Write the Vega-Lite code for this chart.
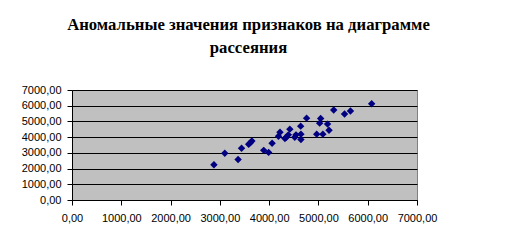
{
  "$schema": "https://vega.github.io/schema/vega-lite/v6.json",
  "width": 345,
  "height": 110,
  "autosize": {"type": "none"},
  "padding": {"left": 72, "top": 90, "right": 93, "bottom": 43},
  "background": "white",
  "title": {
    "text": ["Аномальные значения признаков на диаграмме", "рассеяния"],
    "font": "'Liberation Serif', 'DejaVu Serif', serif",
    "fontSize": 16.7,
    "fontWeight": "bold",
    "color": "black",
    "anchor": "middle",
    "dx": 4,
    "offset": 27,
    "lineHeight": 23
  },
  "data": {
    "values": [
      {"x": 2880, "y": 2240},
      {"x": 3100, "y": 2970},
      {"x": 3370, "y": 2580},
      {"x": 3440, "y": 3290},
      {"x": 3585, "y": 3545},
      {"x": 3620, "y": 3650},
      {"x": 3650, "y": 3760},
      {"x": 3890, "y": 3160},
      {"x": 3990, "y": 3030},
      {"x": 4060, "y": 3610},
      {"x": 4190, "y": 4060},
      {"x": 4220, "y": 4310},
      {"x": 4320, "y": 3910},
      {"x": 4350, "y": 3995},
      {"x": 4390, "y": 4145},
      {"x": 4420, "y": 4510},
      {"x": 4520, "y": 3995},
      {"x": 4545, "y": 4145},
      {"x": 4640, "y": 4700},
      {"x": 4645, "y": 4190},
      {"x": 4645, "y": 3845},
      {"x": 4760, "y": 5210},
      {"x": 4965, "y": 4190},
      {"x": 5025, "y": 4890},
      {"x": 5045, "y": 5190},
      {"x": 5090, "y": 4190},
      {"x": 5185, "y": 4830},
      {"x": 5215, "y": 4440},
      {"x": 5310, "y": 5725},
      {"x": 5530, "y": 5470},
      {"x": 5650, "y": 5660},
      {"x": 6080, "y": 6120}
    ]
  },
  "mark": {"type": "point", "shape": "diamond", "filled": true, "color": "#000080", "size": 55, "opacity": 1},
  "encoding": {
    "x": {
      "field": "x", "type": "quantitative",
      "scale": {"domain": [0, 7000], "nice": false, "zero": true},
      "axis": {
        "title": null,
        "values": [0, 1000, 2000, 3000, 4000, 5000, 6000, 7000],
        "labelExpr": "replace(format(datum.value, '.2f'), '.', ',')",
        "grid": false,
        "domainColor": "black",
        "tickColor": "black",
        "tickSize": 5,
        "labelPadding": 7,
        "labelFont": "Liberation Sans",
        "labelFontSize": 11,
        "labelColor": "black",
        "labelFlush": false,
        "labelOverlap": false
      }
    },
    "y": {
      "field": "y", "type": "quantitative",
      "scale": {"domain": [0, 7000], "nice": false, "zero": true},
      "axis": {
        "title": null,
        "values": [0, 1000, 2000, 3000, 4000, 5000, 6000, 7000],
        "labelExpr": "replace(format(datum.value, '.2f'), '.', ',')",
        "grid": true,
        "gridColor": "black",
        "gridOpacity": 1,
        "gridWidth": 1,
        "domainColor": "black",
        "tickColor": "black",
        "tickSize": 5,
        "labelPadding": 6,
        "labelFont": "Liberation Sans",
        "labelFontSize": 11,
        "labelColor": "black",
        "labelFlush": false,
        "labelOverlap": false
      }
    }
  },
  "config": {
    "view": {"fill": "#c0c0c0", "stroke": "#808080", "strokeWidth": 1}
  }
}
